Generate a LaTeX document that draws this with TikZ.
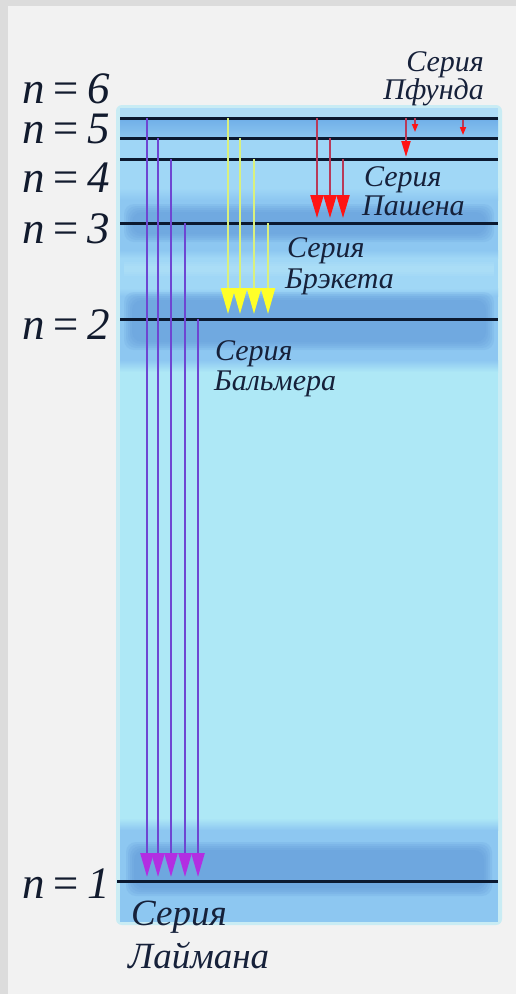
\documentclass[tikz,border=0pt]{standalone}
\usepackage{fontspec}
\setmainfont{Liberation Serif}
\usetikzlibrary{arrows.meta}

\definecolor{framegrey}{HTML}{DCDCDC}
\definecolor{paper}{HTML}{F2F2F2}
\definecolor{cyanbase}{HTML}{AEE8F6}
\definecolor{paletop}{HTML}{AEDCF7}
\definecolor{bandtop}{HTML}{6FAEE8}
\definecolor{bandmidA}{HTML}{8CC6F0}
\definecolor{bandlight}{HTML}{A0D7F6}
\definecolor{bandmid}{HTML}{8DC7F1}
\definecolor{banddark}{HTML}{5F98D8}
\definecolor{streak}{HTML}{BDEAF9}
\definecolor{levelcol}{HTML}{0B1930}
\definecolor{inkcol}{HTML}{16213A}
\definecolor{lymanline}{HTML}{6E46D2}
\definecolor{lymanhead}{HTML}{B22EE2}
\definecolor{balmerline}{HTML}{D9F07E}
\definecolor{balmerhead}{HTML}{FFFF28}
\definecolor{paschenline}{HTML}{B83A58}
\definecolor{paschenhead}{HTML}{FF1414}

% "n = k" with tight spacing
\newcommand\lvltext[1]{n\kern0.14em=\kern0.14em#1}

\tikzset{
  level/.style={draw=levelcol, line width=3pt},
  levellabel/.style={font=\itshape\fontsize{45}{48}\selectfont,
    text=inkcol!80!black, anchor=base west, inner sep=0pt},
  serieslabel/.style={font=\itshape\fontsize{30}{32}\selectfont,
    text=inkcol, inner sep=0pt},
  lyman/.style={draw=lymanline, line width=2.4pt,
    -{Triangle[width=13pt,length=24pt,color=lymanhead]}},
  balmer/.style={draw=balmerline, line width=2.4pt,
    -{Triangle[width=14pt,length=26pt,color=balmerhead]}},
  paschen/.style={draw=paschenline, line width=2.2pt,
    -{Triangle[width=13pt,length=23pt,color=paschenhead]}},
  pfundbig/.style={draw=paschenline, line width=2pt,
    -{Triangle[width=9pt,length=16pt,color=paschenhead]}},
  pfundsmall/.style={draw=paschenline, line width=1.6pt,
    -{Triangle[width=6pt,length=8pt,color=paschenhead]}},
}

\begin{document}
\begin{tikzpicture}[x=1pt,y=-1pt]
\useasboundingbox (0,0) rectangle (516,994);

% paper and thin frame on the left and top
\fill[framegrey] (0,0) rectangle (516,994);
\fill[paper] (8,6) rectangle (516,994);

% soft rim of the panel
\fill[cyanbase!60!paper, rounded corners=6pt] (116,105) rectangle (502,925);
% energy panel
\fill[cyanbase] (120,108) rectangle (498,922);
\fill[paletop] (120,108) rectangle (498,118);
\shade[top color=bandtop, bottom color=bandmidA] (120,118) rectangle (498,138);
\fill[bandlight!95!bandmid] (120,138) rectangle (498,159);
\fill[bandlight] (120,159) rectangle (498,188);
\shade[top color=bandlight, bottom color=bandmid] (120,188) rectangle (498,200);
\fill[bandmid] (120,200) rectangle (498,250);
\shade[top color=bandmid, bottom color=bandlight] (120,250) rectangle (498,258);
\fill[bandlight] (120,258) rectangle (498,288);
\foreach \g in {0,2,4} \fill[streak, opacity=0.15] (124,262+\g) rectangle (494,276-\g);
\shade[top color=bandlight, bottom color=bandmid] (120,288) rectangle (498,296);
\fill[bandmid] (120,296) rectangle (498,360);
\shade[top color=bandmid, bottom color=cyanbase] (120,360) rectangle (498,372);
\shade[top color=cyanbase, bottom color=bandmid] (120,818) rectangle (498,830);
\fill[bandmid] (120,830) rectangle (498,922);

% darker soft strips around the levels n = 3, 2, 1
\foreach \g in {0,2,4,6,8} {
  \fill[banddark, opacity=0.16, rounded corners=10pt] (124+\g,204+\g) rectangle (494-\g,242-\g);
  \fill[banddark, opacity=0.16, rounded corners=10pt] (124+\g,292+\g) rectangle (494-\g,350-\g);
  \fill[banddark, opacity=0.19, rounded corners=10pt] (126+\g,842+\g) rectangle (492-\g,896-\g);
}

% energy levels
\foreach \name/\y/\x in {six/118/120, five/138/120, four/159/120, three/223/120, two/319/120, one/881/117} {
  \coordinate (\name W) at (\x,\y);
  \coordinate (\name E) at (498,\y);
  \draw[level] (\name W) -- (\name E);
}

% level labels
\node[levellabel] (l6) at (22,103) {\lvltext{6}};
\node[levellabel] (l5) at (22,143) {\lvltext{5}};
\node[levellabel] (l4) at (22,192) {\lvltext{4}};
\node[levellabel] (l3) at (22,243) {\lvltext{3}};
\node[levellabel] (l2) at (22,339) {\lvltext{2}};
\node[levellabel] (l1) at (22,898) {\lvltext{1}};

% Lyman series: down to n = 1
\foreach \i/\x/\y in {1/147/118, 2/158/138, 3/171/159, 4/185/223, 5/198/319} {
  \coordinate (ly\i s) at (\x,\y);
  \coordinate (ly\i e) at (\x,877);
  \draw[lyman] (ly\i s) -- (ly\i e);
}

% Balmer series: down to n = 2
\foreach \i/\x/\y in {1/228/118, 2/240/138, 3/254/159, 4/268/223} {
  \coordinate (ba\i s) at (\x,\y);
  \coordinate (ba\i e) at (\x,314);
  \draw[balmer] (ba\i s) -- (ba\i e);
}

% Paschen series: down to n = 3
\foreach \i/\x/\y in {1/317/118, 2/330/138, 3/343/159} {
  \coordinate (pa\i s) at (\x,\y);
  \coordinate (pa\i e) at (\x,218);
  \draw[paschen] (pa\i s) -- (pa\i e);
}

% short transitions near the top
\coordinate (pf1s) at (406,118); \coordinate (pf1e) at (406,157);
\coordinate (pf2s) at (415,118); \coordinate (pf2e) at (415,132);
\coordinate (pf3s) at (463,120); \coordinate (pf3e) at (463,135);
\draw[pfundbig] (pf1s) -- (pf1e);
\draw[pfundsmall] (pf2s) -- (pf2e);
\draw[pfundsmall] (pf3s) -- (pf3e);

% series names
\node[serieslabel, anchor=base east] (pfA) at (484,71) {Серия};
\node[serieslabel, anchor=base east] (pfB) at (484,99) {Пфунда};
\node[serieslabel, anchor=base west] (paA) at (364,186) {Серия};
\node[serieslabel, anchor=base west] (paB) at (362,215) {Пашена};
\node[serieslabel, anchor=base west] (brA) at (287,257) {Серия};
\node[serieslabel, anchor=base west] (brB) at (285,288) {Брэкета};
\node[serieslabel, anchor=base west] (bmA) at (215,360) {Серия};
\node[serieslabel, anchor=base west] (bmB) at (214,390) {Бальмера};
\node[serieslabel, font=\itshape\fontsize{37}{40}\selectfont, anchor=base west] (lyA) at (131,925) {Серия};
\node[serieslabel, font=\itshape\fontsize{37}{40}\selectfont, anchor=base west] (lyB) at (128,968) {Лаймана};
\end{tikzpicture}
\end{document}
